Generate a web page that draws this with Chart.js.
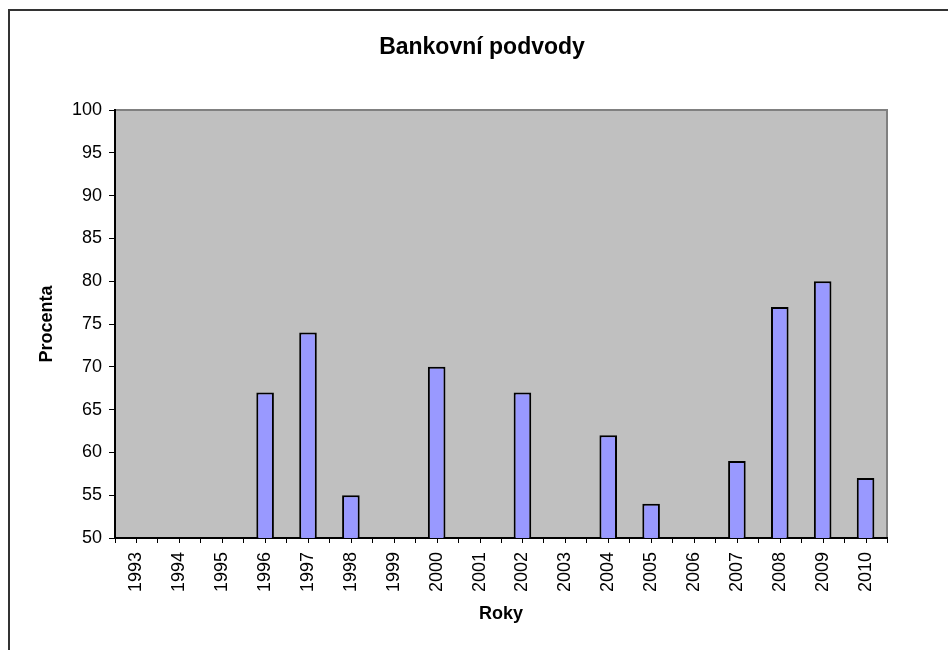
<!DOCTYPE html>
<html>
<head>
<meta charset="utf-8">
<title>Bankovní podvody</title>
<script src="https://cdn.jsdelivr.net/npm/chart.js@4/dist/chart.umd.min.js"></script>
<style>
    html, body { margin: 0; padding: 0; background: #fff; overflow: hidden; }
    #wrap { position: relative; width: 964px; height: 650px; }
    #frame {
        position: absolute; left: 8px; top: 9px; width: 1000px; height: 700px;
        border-top: 2px solid #333; border-left: 2px solid #333;
        pointer-events: none;
    }
    #title {
        position: absolute; left: 0; top: 33px; width: 964px;
        text-align: center; line-height: 23px;
        font: bold 23px Arial, "Liberation Sans", sans-serif; color: #000;
    }
    canvas { position: absolute; left: 0; top: 0; }
</style>
</head>
<body>
<div id="wrap">
    <canvas id="chart" width="964" height="650"></canvas>
    <div id="title">Bankovní podvody</div>
    <div id="frame"></div>
</div>
<script>
// Data
const years = ['1993', '1994', '1995', '1996', '1997', '1998', '1999', '2000', '2001',
    '2002', '2003', '2004', '2005', '2006', '2007', '2008', '2009', '2010'];
const percent = [null, null, null, 67, 74, 55, null, 70, null,
    67, null, 62, 54, null, 59, 77, 80, 57];
const yMin = 50;
const yMax = 100;
const yStep = 5;

document.addEventListener('DOMContentLoaded', () => {
    const ctx = document.getElementById('chart').getContext('2d');
    const fontFamily = 'Arial, "Liberation Sans", sans-serif';

    // Grey plot background with the grey top/right frame lines
    const plotBackground = {
        id: 'plotBackground',
        beforeDraw(chart) {
            const { ctx, chartArea: a } = chart;
            ctx.save();
            ctx.fillStyle = '#c0c0c0';
            ctx.fillRect(a.left, a.top, a.right - a.left, a.bottom - a.top);
            ctx.strokeStyle = '#808080';
            ctx.lineWidth = 2;
            ctx.beginPath();
            ctx.moveTo(a.left, a.top);
            ctx.lineTo(a.right, a.top);
            ctx.lineTo(a.right, a.bottom);
            ctx.stroke();
            ctx.restore();
        }
    };

    // Extra tick marks at the centre of every category
    const centreTicks = {
        id: 'centreTicks',
        afterDraw(chart) {
            const scale = chart.scales.x;
            const ctx = chart.ctx;
            ctx.save();
            ctx.strokeStyle = '#000';
            ctx.lineWidth = 1;
            ctx.beginPath();
            scale.ticks.forEach((t, i) => {
                const x = Math.round(scale.getPixelForTick(i)) + 0.5;
                ctx.moveTo(x, scale.top);
                ctx.lineTo(x, scale.top + 5);
            });
            ctx.stroke();
            ctx.restore();
        }
    };

    new Chart(ctx, {
        type: 'bar',
        data: {
            labels: years,
            datasets: [{
                label: 'Procenta',
                data: percent,
                backgroundColor: '#9999ff',
                borderColor: '#000',
                borderWidth: 2,
                borderSkipped: false,
                categoryPercentage: 1,
                barPercentage: 0.41
            }]
        },
        options: {
            responsive: false,
            animation: false,
            devicePixelRatio: 1,
            layout: { padding: { left: 0, right: 77, top: 110, bottom: 0 } },
            plugins: {
                legend: { display: false },
                tooltip: { enabled: false },
                title: { display: false }
            },
            scales: {
                x: {
                    grid: {
                        offset: true,
                        drawOnChartArea: false,
                        color: '#000',
                        tickLength: 5
                    },
                    border: { color: '#000', width: 2 },
                    ticks: {
                        color: '#000',
                        font: { family: fontFamily, size: 18 },
                        minRotation: 90,
                        maxRotation: 90,
                        autoSkip: false,
                        padding: 9
                    },
                    title: {
                        display: true,
                        text: 'Roky',
                        color: '#000',
                        font: { family: fontFamily, size: 18, weight: 'bold' },
                        padding: { top: 0, bottom: 25 }
                    },
                    afterFit(scale) { scale.height = 112; }
                },
                y: {
                    min: yMin,
                    max: yMax,
                    grid: {
                        drawOnChartArea: false,
                        color: '#000',
                        tickLength: 6
                    },
                    border: { color: '#000', width: 2 },
                    ticks: {
                        stepSize: yStep,
                        color: '#000',
                        font: { family: fontFamily, size: 18 },
                        padding: 7
                    },
                    title: {
                        display: true,
                        text: 'Procenta',
                        color: '#000',
                        font: { family: fontFamily, size: 18, weight: 'bold' },
                        padding: { top: 36, bottom: 0 }
                    },
                    afterFit(scale) { scale.width = 115; }
                }
            }
        },
        plugins: [plotBackground, centreTicks]
    });
});
</script>
</body>
</html>
